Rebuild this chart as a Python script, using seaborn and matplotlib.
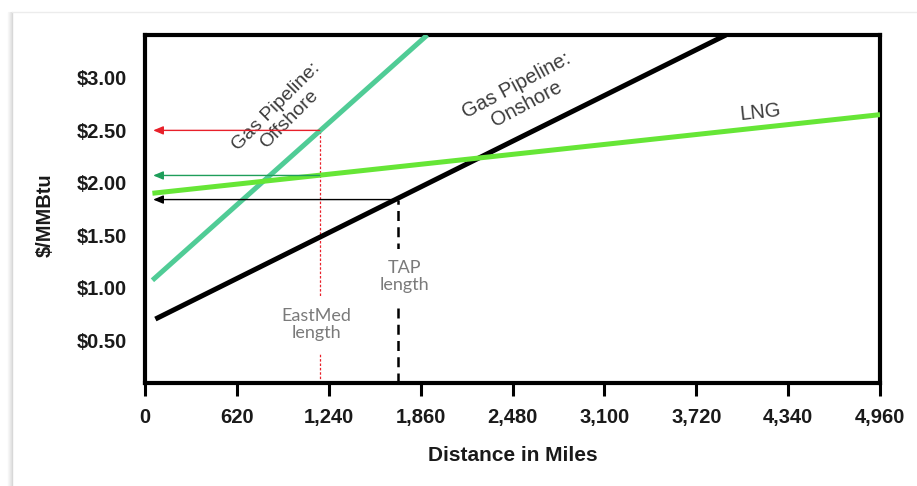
import matplotlib
matplotlib.use("Agg")
import matplotlib.pyplot as plt
from matplotlib.lines import Line2D
import seaborn as sns
import pandas as pd

# ---- data ----
offshore_miles = [50, 1905]
offshore_cost = [1.07, 3.41]
onshore_miles = [70, 3920]
onshore_cost = [0.70, 3.41]
lng_miles = [50, 4960]
lng_cost = [1.90, 2.65]

x_ticks = [0, 620, 1240, 1860, 2480, 3100, 3720, 4340, 4960]
x_tick_labels = ["0", "620", "1,240", "1,860", "2,480", "3,100", "3,720", "4,340", "4,960"]
y_ticks = [0.5, 1.0, 1.5, 2.0, 2.5, 3.0]
y_tick_labels = ["$0.50", "$1.00", "$1.50", "$2.00", "$2.50", "$3.00"]

eastmed_miles = 1180
eastmed_offshore_cost = 2.50
eastmed_lng_cost = 2.07
tap_miles = 1710
tap_onshore_cost = 1.84

series_names = ["Offshore", "Onshore", "LNG"]
colors = {"Offshore": "#50CC96", "Onshore": "#000000", "LNG": "#66E636"}

df = pd.concat([
    pd.DataFrame({"miles": offshore_miles, "cost": offshore_cost, "series": "Offshore"}),
    pd.DataFrame({"miles": onshore_miles, "cost": onshore_cost, "series": "Onshore"}),
    pd.DataFrame({"miles": lng_miles, "cost": lng_cost, "series": "LNG"}),
])

sns.set_style("white")
plt.rcParams["font.family"] = ["Liberation Sans", "DejaVu Sans"]

fig = plt.figure(figsize=(9.17, 4.86), dpi=100)
fig.patch.set_facecolor("white")
ax = fig.add_axes([145 / 917, 1 - 383 / 486, 735 / 917, 348 / 486])

sns.lineplot(data=df, x="miles", y="cost", hue="series", palette=colors,
             hue_order=series_names, linewidth=3.6, legend=False,
             estimator=None, sort=False, ax=ax, zorder=3)
for ln in ax.lines:
    ln.set_solid_capstyle("butt")

ax.set_xlim(0, 4960)
ax.set_ylim(0.09, 3.41)

for s in ax.spines.values():
    s.set_visible(True)
    s.set_color("black")
    s.set_linewidth(3)

ax.set_xticks(x_ticks)
ax.set_xticklabels(x_tick_labels)
ax.set_yticks(y_ticks)
ax.set_yticklabels(y_tick_labels)
ax.tick_params(axis="x", direction="out", length=9, width=2.2, color="black",
               pad=9, labelsize=14.5, bottom=True)
ax.tick_params(axis="y", length=0, pad=13, labelsize=14.5, left=True)
for lab in ax.get_xticklabels() + ax.get_yticklabels():
    lab.set_fontweight("bold")
    lab.set_color("#1a1a1a")

ax.set_xlabel("Distance in Miles", fontsize=15, fontweight="bold", color="#1a1a1a", va="center")
ax.xaxis.set_label_coords(0.50, -0.207)
ax.set_ylabel("$/MMBtu", fontsize=14.5, fontweight="bold", color="#1a1a1a", va="center")
ax.yaxis.set_label_coords(-0.136, 0.483)

# series labels
lab_col = "#3c3c3c"
ax.text(930, 2.665, "Gas Pipeline:\nOffshore", rotation=45, ha="center", va="center",
        fontsize=14, color=lab_col, rotation_mode="anchor", linespacing=1.15)
ax.text(2540, 2.84, "Gas Pipeline:\nOnshore", rotation=28, ha="center", va="center",
        fontsize=14.5, color=lab_col, rotation_mode="anchor", linespacing=1.1)
ax.text(4150, 2.668, "LNG", rotation=6, ha="center", va="center",
        fontsize=14.5, color=lab_col, rotation_mode="anchor")

# reference lines and arrows
ax.plot([eastmed_miles, eastmed_miles], [0.09, eastmed_offshore_cost], color="#E8202A",
        linewidth=0.9, linestyle=(0, (2, 1.5)), zorder=2)
ax.plot([tap_miles, tap_miles], [0.09, tap_onshore_cost], color="black",
        linewidth=1.8, linestyle=(0, (4, 2.5)), zorder=2)

arrow_tip = 55
for yv, xv, c in [(eastmed_offshore_cost, eastmed_miles, "#E8202A"),
                  (eastmed_lng_cost, eastmed_miles, "#1E9E5A"),
                  (tap_onshore_cost, tap_miles, "black")]:
    ax.annotate("", xy=(arrow_tip, yv), xytext=(xv, yv),
                arrowprops=dict(arrowstyle="-|>,head_length=0.6,head_width=0.25",
                                color=c, lw=1.0, shrinkA=0, shrinkB=0), zorder=4)

note_kw = dict(ha="center", va="center", fontsize=13, color="#7a7a7a",
               family=["Lato", "DejaVu Sans"], linespacing=1.1, zorder=5,
               bbox=dict(facecolor="white", edgecolor="none", pad=8))
ax.text(1154, 0.645, "EastMed\nlength", **note_kw)
ax.text(1754, 1.103, "TAP\nlength", **note_kw)

# outer frame with soft shadow (left and top edges)
xl = 12 / 917
yt = 1 - 12 / 486
for i, a in enumerate([0.05, 0.08, 0.12, 0.18]):
    off = (4 - i) / 917
    fig.add_artist(Line2D([xl - off, xl - off], [0, yt], transform=fig.transFigure,
                          color="gray", alpha=a, linewidth=1))
fig.add_artist(Line2D([xl, xl], [0, yt], transform=fig.transFigure, color="#d8d8d8", linewidth=1))
fig.add_artist(Line2D([xl, 1], [yt, yt], transform=fig.transFigure, color="#ececec", linewidth=1))

fig.savefig("out.png", dpi=100, facecolor="white")
